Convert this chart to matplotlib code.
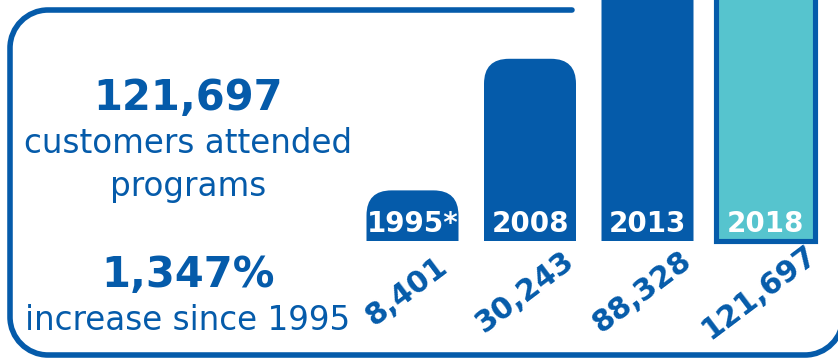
import matplotlib
matplotlib.use("Agg")
import matplotlib.pyplot as plt
from matplotlib.patches import FancyBboxPatch, PathPatch
from matplotlib.path import Path

# Program attendance by year
years = ["1995*", "2008", "2013", "2018"]
attendance = [8401, 30243, 88328, 121697]
value_labels = ["8,401", "30,243", "88,328", "121,697"]

headline_total = "121,697"
headline_total_caption = ["customers attended", "programs"]
headline_growth = "1,347%"
headline_growth_caption = "increase since 1995"

BLUE = "#055BAA"
TEAL = "#56C4CE"

W, H = 838, 358
fig = plt.figure(figsize=(W / 100, H / 100), dpi=100)
fig.patch.set_facecolor("white")

# Rounded frame around the panel (open at the top right)
frame_ax = fig.add_axes([0, 0, 1, 1])
frame_ax.set_xlim(0, W)
frame_ax.set_ylim(H, 0)
frame_ax.axis("off")
frame_ax.patch.set_alpha(0)

k = 0.5523
r = 38
L, T, B, R = 10, 10, 355, 843
verts = [
    (572, T), (L + r, T),
    (L + r - k * r, T), (L, T + r - k * r), (L, T + r),
    (L, B - r),
    (L, B - r + k * r), (L + r - k * r, B), (L + r, B),
    (R - r, B),
    (R - r + k * r, B), (R, B - r + k * r), (R, B - r),
    (R, -10),
]
codes = [Path.MOVETO, Path.LINETO,
         Path.CURVE4, Path.CURVE4, Path.CURVE4,
         Path.LINETO,
         Path.CURVE4, Path.CURVE4, Path.CURVE4,
         Path.LINETO,
         Path.CURVE4, Path.CURVE4, Path.CURVE4,
         Path.LINETO]
frame_ax.add_patch(PathPatch(Path(verts, codes), fill=False, edgecolor=BLUE,
                             linewidth=4.0, capstyle="round", joinstyle="round"))

# Bar panel
px_per_x = 117.5
y_top = 40000
ax = fig.add_axes([342 / W, 117 / H, 493.5 / W, 241 / H])
ax.set_xlim(-0.6, 3.6)
ax.set_ylim(0, y_top)
ax.axis("off")
ax.patch.set_alpha(0)

units_per_px = y_top / 241
aspect = units_per_px * px_per_x
bar_w = 92 / px_per_x
corner = 25 / px_per_x
ext = 40 * units_per_px

for i, v in enumerate(attendance[:3]):
    ax.add_patch(FancyBboxPatch(
        (i - bar_w / 2, -ext), bar_w, v + ext,
        boxstyle=f"round,pad=0,rounding_size={corner}",
        mutation_aspect=aspect, facecolor=BLUE, edgecolor="none"))

last = len(attendance) - 1
ax.bar(last, attendance[last], width=99 / px_per_x, color=TEAL,
       edgecolor=BLUE, linewidth=3.7, clip_on=False)

for i, (yr, lab) in enumerate(zip(years, value_labels)):
    ax.annotate(yr, xy=(i, 0), xytext=(0, 9), textcoords="offset pixels",
                ha="center", va="baseline", color="white",
                fontsize=20, fontweight="bold", annotation_clip=False)
    ax.annotate(lab, xy=(i, 0), xytext=(-6, -51), textcoords="offset pixels",
                ha="center", va="center", rotation=37, rotation_mode="anchor",
                color=BLUE, fontsize=21.5, fontweight="bold",
                annotation_clip=False)

# Headline figures on the left
cx = 188 / W
fig.text(cx, 1 - 110 / H, headline_total, ha="center", va="baseline",
         color=BLUE, fontsize=30, fontweight="bold")
fig.text(cx, 1 - 153 / H, headline_total_caption[0], ha="center",
         va="baseline", color=BLUE, fontsize=23.5)
fig.text(cx, 1 - 196 / H, headline_total_caption[1], ha="center",
         va="baseline", color=BLUE, fontsize=23.5)
fig.text(cx, 1 - 287 / H, headline_growth, ha="center", va="baseline",
         color=BLUE, fontsize=30, fontweight="bold")
fig.text(cx, 1 - 330 / H, headline_growth_caption, ha="center",
         va="baseline", color=BLUE, fontsize=23.5)

fig.savefig("out.png", dpi=100)
